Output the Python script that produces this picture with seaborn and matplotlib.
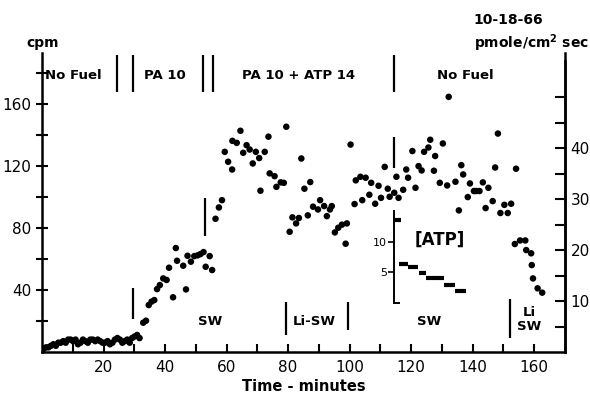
import matplotlib
matplotlib.use('Agg')
from matplotlib import pyplot as plt
import seaborn as sns
import pandas as pd

# time (min) and cpm of each point
time_min = [0.5, 1.3, 2.1, 2.9, 3.7, 4.5, 5.3, 6.1, 6.9, 7.7, 8.5, 9.3, 10.1, 10.9, 11.7,
            12.5, 13.3, 14.1, 14.9, 15.7, 16.5, 17.3, 18.1, 18.9, 19.7, 20.5, 21.3, 22.1,
            22.9, 23.7, 24.5, 25.3, 26.1, 26.9, 27.7, 28.5, 29.3, 30.1, 30.9, 31.7,
            32.9, 33.8, 34.7, 35.6, 36.5, 37.4, 38.3, 39.4, 40.5, 41.3, 42.6, 43.5, 43.9,
            45.9, 46.8, 47.3, 48.4, 49.5, 50.6, 51.5, 52.5, 53.2, 54.5, 55.3, 56.4, 57.5,
            58.5, 59.4, 60.5, 61.8, 61.9, 63.3, 64.5, 65.4, 66.5, 67.5, 68.5, 69.5, 70.6,
            71.0, 72.4, 73.6, 74.0, 75.6, 76.2, 77.6, 78.6, 79.4, 80.5, 81.4, 82.6, 83.5,
            84.3, 85.3, 86.4, 87.2, 88.1, 89.7, 90.4, 91.7, 92.6, 93.6, 94.2, 95.2, 96.3,
            97.5, 98.7, 99.1, 100.3, 101.6, 102.0, 103.5, 104.1, 105.2, 106.4, 107.0, 108.3,
            109.4, 110.2, 111.4, 112.4, 113.0, 114.5, 115.2, 115.9, 117.4, 118.4, 119.0,
            120.4, 121.4, 122.4, 123.4, 124.2, 125.6, 126.2, 127.4, 127.8, 129.3, 130.3,
            131.7, 132.2, 134.4, 135.5, 136.3, 136.9, 138.4, 139.1, 140.4, 141.1, 142.2,
            143.3, 144.2, 145.1, 146.5, 147.3, 148.2, 149.0, 150.3, 151.4, 152.5, 153.7,
            154.1, 155.4, 157.1, 157.4, 159.0, 159.2, 159.6, 161.1, 162.6]
cpm = [2, 3, 3, 4, 5, 4, 6, 6, 7, 6, 8, 8, 7, 8, 5,
       6, 8, 7, 6, 8, 8, 7, 8, 7, 6, 6, 7, 5,
       6, 8, 9, 8, 6, 7, 8, 6, 9, 10, 11, 9,
       18.9, 20.2, 30.3, 32.5, 33.5, 40.6, 43.2, 47.5, 46.5, 54.4, 35.3, 67.1, 58.9,
       55.7, 40.4, 62.1, 58.3, 61.9, 62.4, 63.2, 64.5, 55.0, 61.9, 52.9, 86.0, 93.3,
       98.0, 129.2, 122.8, 117.8, 136.3, 135.0, 142.8, 128.6, 133.5, 130.7, 121.7, 129.2, 125.2,
       104.1, 129.2, 139.0, 115.3, 113.5, 106.6, 109.5, 109.2, 145.4, 77.6, 86.9, 83.0, 86.5,
       124.9, 105.4, 88.2, 109.7, 93.8, 92.0, 98.0, 94.2, 87.7, 92.0, 94.2, 77.2, 80.2,
       82.2, 69.9, 83.0, 133.9, 95.5, 110.8, 113.1, 98.0, 112.5, 101.5, 109.2, 95.7,
       107.3, 99.5, 119.5, 105.4, 100.2, 102.8, 113.1, 99.5, 104.7, 117.8, 112.5,
       129.7, 106.0, 120.0, 117.2, 129.2, 132.0, 137.0, 117.0, 126.5, 109.2, 134.6,
       107.5, 164.7, 109.9, 91.4, 120.6, 114.6, 100.0, 108.8, 103.9, 103.9, 103.9,
       109.5, 92.9, 106.0, 97.4, 119.1, 141.0, 89.7, 95.0, 89.7, 95.7, 69.7,
       118.3, 72.0, 72.0, 65.8, 63.7, 56.1, 47.5, 41.1, 38.3]

# inset: [ATP] steps
atp_start = [114.6, 116.2, 118.9, 122.5, 124.9, 130.6, 134.3]
atp_end = [116.8, 118.9, 122.2, 124.9, 130.6, 134.3, 137.9]
atp_level = [13.6, 6.3, 5.8, 4.9, 4.1, 2.9, 1.9]

# condition labels along the top and the bath labels near the bottom
top_labels = ['No Fuel', 'PA 10', 'PA 10 + ATP 14', 'No Fuel']
top_label_x = [10.2, 40, 83.3, 137.7]
top_marks = [24.3, 29.5, 52.4, 55.6, 114.4]
bath_labels = ['SW', 'Li-SW', 'SW', 'Li\nSW']
bath_label_x = [54.8, 88.6, 125.8, 158.5]
bath_marks = [29.5, 79.2, 99.5, 152.2]

x_ticks = list(range(10, 161, 10))
x_tick_labels = [str(v) if v % 20 == 0 else '' for v in x_ticks]
y_ticks = list(range(20, 181, 20))
y_tick_labels = [str(v) if v % 40 == 0 else '' for v in y_ticks]
y2_ticks = list(range(5, 51, 5))
y2_tick_labels = [str(v) if v % 10 == 0 and v < 50 else '' for v in y2_ticks]

sns.set_style('ticks')
plt.rcParams['font.family'] = ['DejaVu Sans']
plt.rcParams.update({'text.color': 'black', 'axes.labelcolor': 'black',
                     'xtick.color': 'black', 'ytick.color': 'black',
                     'axes.edgecolor': 'black'})
lettering = ['DejaVu Sans']

df = pd.DataFrame({'t': time_min, 'cpm': cpm})

fig = plt.figure(figsize=(5.9, 3.98), dpi=100)
ax = fig.add_axes([0.0712, 0.1156, 0.8864, 0.7512])
sns.scatterplot(data=df, x='t', y='cpm', ax=ax, color='black', s=22,
                edgecolor='none', legend=False, zorder=3)
ax.set_xlim(0, 170)
ax.set_ylim(0, 193)
ax.set_xticks(x_ticks)
ax.set_xticklabels(x_tick_labels)
ax.set_yticks(y_ticks)
ax.set_yticklabels(y_tick_labels)
ax.tick_params(axis='x', direction='in', length=6, width=1.5, labelsize=11, pad=6)
ax.tick_params(axis='y', direction='inout', length=8, width=1.5, labelsize=11)
ax.set_xlabel('Time - minutes', fontsize=10.5, fontweight='bold', family=lettering, labelpad=3)
ax.set_ylabel('')
for s in ['left', 'bottom', 'right']:
    ax.spines[s].set_linewidth(1.8)
ax.spines['top'].set_visible(False)

ax2 = ax.twinx()
ax2.set_ylim(0, 58.7)
ax2.set_yticks(y2_ticks)
ax2.set_yticklabels(y2_tick_labels)
ax2.tick_params(axis='y', direction='in', length=7, width=1.5, labelsize=11, pad=4)
ax2.spines['top'].set_visible(False)
ax2.spines['right'].set_linewidth(1.8)
ax2.spines['right'].set_bounds(0, 57.2)
ax2.spines['left'].set_visible(False)
ax2.spines['bottom'].set_visible(False)

txt = dict(fontsize=9.5, fontweight='bold', family=lettering, ha='center', va='center')
for lab, x in zip(top_labels, top_label_x):
    ax.text(x, 178.5, lab, **txt)
ax.vlines(top_marks, 168, 192, color='black', lw=1.6)
ax.vlines([114.4], 118.5, 139, color='black', lw=1.6)
for lab, x in zip(bath_labels, bath_label_x):
    ax.text(x, 19.5 if '\n' not in lab else 21, lab, linespacing=1.1, **txt)
ax.vlines([bath_marks[0]], 21, 41, color='black', lw=1.6)
ax.vlines([52.9], 75, 99.5, color='black', lw=1.6)
ax.vlines([bath_marks[1]], 11, 32, color='black', lw=1.6)
ax.vlines([bath_marks[2]], 14, 32.5, color='black', lw=1.6)
ax.vlines([bath_marks[3]], 9, 34, color='black', lw=1.6)

fig.text(0.072, 0.892, 'cpm', fontsize=10, fontweight='bold', family=lettering,
         ha='center', va='center')
fig.text(0.999, 0.892, 'pmole/cm$^{\\mathbf{2}}$ sec', fontsize=10, fontweight='bold',
         family=lettering, ha='right', va='center')
fig.text(0.862, 0.95, '10-18-66', fontsize=10, fontweight='bold', family=lettering,
         ha='center', va='center')

# [ATP] inset
axin = ax.inset_axes([114.4, 31.6, 25, 59.4], transform=ax.transData)
axin.patch.set_alpha(0)
axin.hlines(atp_level, atp_start, atp_end, color='black', lw=3)
axin.set_xlim(114.4, 139.4)
axin.set_ylim(0, 15)
axin.set_yticks([5, 10])
axin.set_yticklabels(['5', '10'])
axin.set_xticks([])
axin.tick_params(axis='y', direction='out', length=4, width=1.2, labelsize=8, pad=1)
for s in ['top', 'right']:
    axin.spines[s].set_visible(False)
axin.spines['left'].set_linewidth(1.4)
axin.spines['bottom'].set_linewidth(1.4)
axin.spines['bottom'].set_bounds(114.4, 116.2)
axin.text(129.4, 10.3, '[ATP]', fontsize=12, fontweight='bold', family=lettering,
          ha='center', va='center')

fig.savefig('out.png', dpi=100)
